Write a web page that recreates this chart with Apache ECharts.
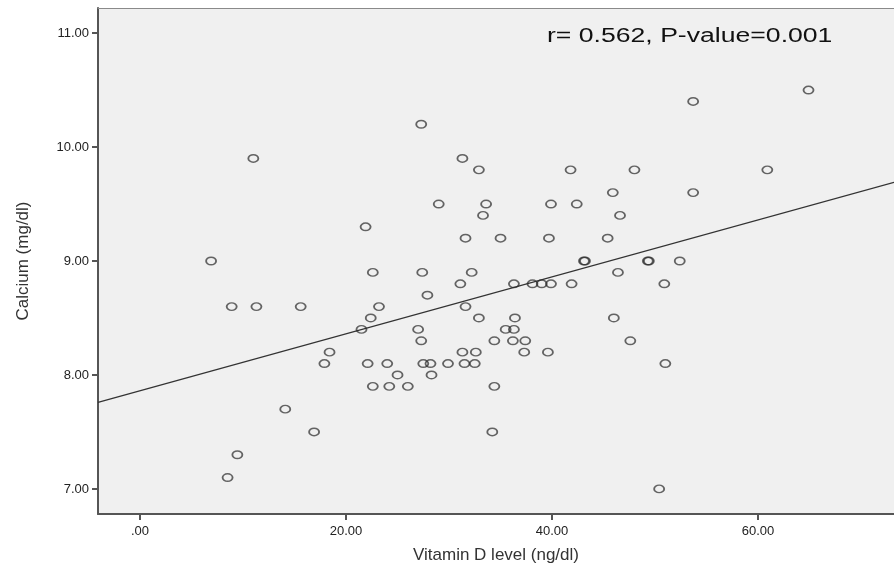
<!DOCTYPE html>
<html>
<head>
<meta charset="utf-8">
<script src="https://cdn.jsdelivr.net/npm/echarts@6/dist/echarts.min.js"></script>
<style>
  html, body { margin: 0; padding: 0; background: #fff; }
  #scatter { width: 894px; height: 575px; }
</style>
</head>
<body>
<div id="scatter"></div>
<script>
// values
var vitaminD = [27.3, 11.0, 31.3, 32.9, 41.8, 48.0, 60.9, 64.9, 53.7, 45.9,
  53.7, 29.0, 33.6, 39.9, 42.4, 33.3, 46.6, 21.9, 31.6, 35.0,
  39.7, 45.4, 6.9, 43.1, 43.2, 49.3, 49.4, 52.4, 22.6, 27.4,
  32.2, 46.4, 31.1, 36.3, 38.1, 39.0, 39.9, 41.9, 50.9, 27.9,
  8.9, 11.3, 15.6, 23.2, 31.6, 22.4, 32.9, 36.4, 46.0, 21.5,
  27.0, 35.5, 36.3, 27.3, 34.4, 36.2, 37.4, 47.6, 18.4, 31.3,
  32.6, 37.3, 39.6, 17.9, 22.1, 24.0, 27.5, 28.2, 29.9, 31.5,
  32.5, 51.0, 25.0, 28.3, 22.6, 24.2, 26.0, 34.4, 14.1, 16.9,
  34.2, 9.45, 8.5, 50.4];
var calcium = [10.2, 9.9, 9.9, 9.8, 9.8, 9.8, 9.8, 10.5, 10.4, 9.6,
  9.6, 9.5, 9.5, 9.5, 9.5, 9.4, 9.4, 9.3, 9.2, 9.2,
  9.2, 9.2, 9.0, 9.0, 9.0, 9.0, 9.0, 9.0, 8.9, 8.9,
  8.9, 8.9, 8.8, 8.8, 8.8, 8.8, 8.8, 8.8, 8.8, 8.7,
  8.6, 8.6, 8.6, 8.6, 8.6, 8.5, 8.5, 8.5, 8.5, 8.4,
  8.4, 8.4, 8.4, 8.3, 8.3, 8.3, 8.3, 8.3, 8.2, 8.2,
  8.2, 8.2, 8.2, 8.1, 8.1, 8.1, 8.1, 8.1, 8.1, 8.1,
  8.1, 8.1, 8.0, 8.0, 7.9, 7.9, 7.9, 7.9, 7.7, 7.5,
  7.5, 7.3, 7.1, 7.0];
// fit line end points (at the plot edges)
var fitX = [-4.08, 73.2];
var fitY = [7.76, 9.69];
var xTicks = [0, 20, 40, 60];
var yTicks = [7, 8, 9, 10, 11];
var statText = "r= 0.562, P-value=0.001";

var myChart = echarts.init(document.getElementById("scatter"));

var points = vitaminD.map(function (v, i) { return [v, calcium[i]]; });
var line = fitX.map(function (v, i) { return [v, fitY[i]]; });

var option = {
  animation: false,
  backgroundColor: "#ffffff",
  textStyle: { fontFamily: "Liberation Sans, Arial, sans-serif" },
  grid: {
    left: 98,
    top: 8,
    bottom: 61,
    right: 0,
    show: true,
    backgroundColor: "#f0f0f0",
    borderWidth: 0
  },
  xAxis: [
    {
      type: "value",
      min: -4.08,
      max: 73.2,
      name: "Vitamin D level (ng/dl)",
      nameLocation: "middle",
      nameGap: 33,
      nameTextStyle: { fontSize: 17, color: "#333" },
      splitLine: { show: false },
      axisLine: { show: true, onZero: false, lineStyle: { color: "#555", width: 2 } },
      axisTick: { show: true, customValues: xTicks, length: 6, lineStyle: { color: "#555", width: 2 } },
      axisLabel: {
        customValues: xTicks,
        margin: 11,
        fontSize: 13,
        color: "#222",
        formatter: function (v) { return v === 0 ? ".00" : v.toFixed(2); }
      }
    },
    {
      // top frame line only
      type: "value",
      position: "top",
      min: -4.08,
      max: 73.2,
      splitLine: { show: false },
      axisLine: { show: true, onZero: false, lineStyle: { color: "#8a8a8a", width: 1 } },
      axisTick: { show: false },
      axisLabel: { show: false }
    }
  ],
  yAxis: {
    type: "value",
    min: 6.78,
    max: 11.22,
    name: "Calcium (mg/dl)",
    nameLocation: "middle",
    nameGap: 66,
    nameTextStyle: { fontSize: 17, color: "#333" },
    splitLine: { show: false },
    axisLine: { show: true, onZero: false, lineStyle: { color: "#555", width: 2 } },
    axisTick: { show: true, customValues: yTicks, length: 6, lineStyle: { color: "#555", width: 2 } },
    axisLabel: {
      customValues: yTicks,
      margin: 9,
      fontSize: 13,
      color: "#222",
      formatter: function (v) { return v.toFixed(2); }
    }
  },
  graphic: [
    {
      type: "text",
      left: 547,
      top: 26,
      scaleX: 1.33,
      style: { text: statText, fontSize: 20, fill: "#111", fontFamily: "Liberation Sans, Arial, sans-serif" }
    }
  ],
  series: [
    {
      type: "line",
      data: line,
      symbol: "none",
      lineStyle: { color: "#333", width: 1.2 },
      z: 2
    },
    {
      type: "scatter",
      data: points,
      symbol: "circle",
      symbolSize: [10, 7.5],
      itemStyle: { color: "rgba(0,0,0,0)", borderColor: "rgba(45,45,45,0.9)", borderWidth: 1.6 },
      z: 3
    }
  ]
};

option && myChart.setOption(option);
</script>
</body>
</html>
